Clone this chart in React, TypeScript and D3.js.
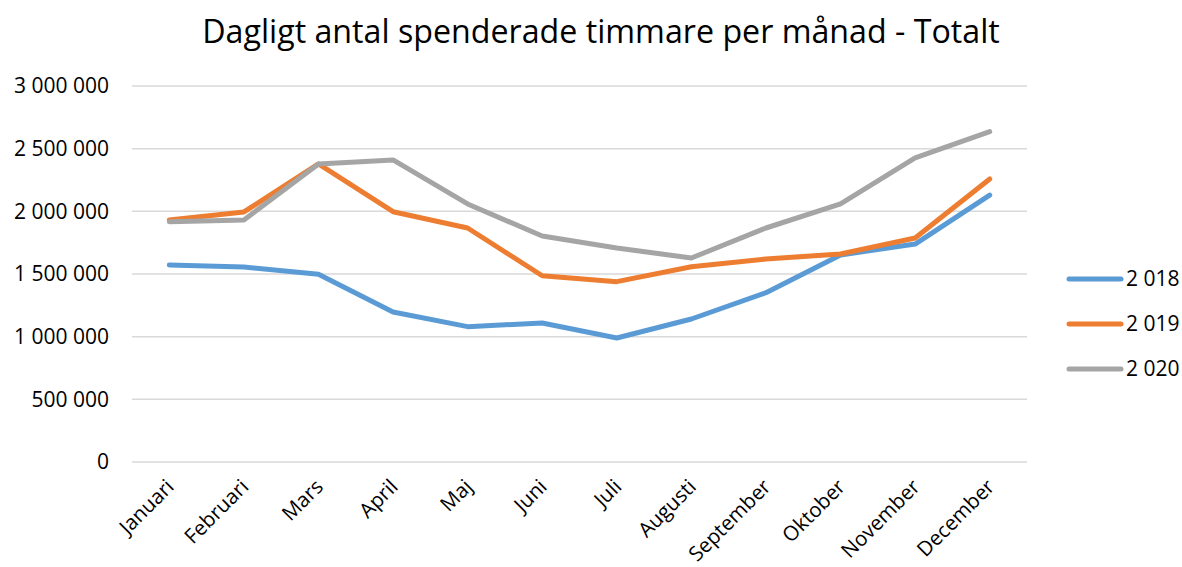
import React from "react";
import * as d3 from "d3";

// month categories
const months = ["Januari", "Februari", "Mars", "April", "Maj", "Juni", "Juli", "Augusti", "September", "Oktober", "November", "December"];

// series values (daily hours per month)
const values2018 = [1572000, 1556000, 1498000, 1197000, 1080000, 1109000, 989000, 1141000, 1351000, 1652000, 1739000, 2130000];
const values2019 = [1931000, 1995000, 2378000, 1997000, 1867000, 1486000, 1439000, 1558000, 1620000, 1660000, 1787000, 2258000];
const values2020 = [1917000, 1931000, 2378000, 2410000, 2059000, 1803000, 1707000, 1628000, 1867000, 2059000, 2426000, 2636000];

const seriesNames = ["2 018", "2 019", "2 020"];
const yTicks = [0, 500000, 1000000, 1500000, 2000000, 2500000, 3000000];

const colors = ["#5B9BD5", "#ED7D31", "#A5A5A5"];

const width = 1182;
const height = 567;
const margin = { top: 86, right: 155, bottom: 105, left: 132 };
const font = "'Open Sans', 'Noto Sans', sans-serif";

const fmt = (v: number) => d3.format(",")(v).replace(/,/g, " ");

export default function App() {
  const innerWidth = width - margin.left - margin.right;
  const innerHeight = height - margin.top - margin.bottom;

  const x = d3.scalePoint<string>().domain(months).range([0, innerWidth]).padding(0.5);
  const y = d3.scaleLinear().domain([0, 3000000]).range([innerHeight, 0]);

  const line = d3.line<number>()
    .x((d, i) => x(months[i]) as number)
    .y(d => y(d));

  const series = [values2018, values2019, values2020];

  return (
    <svg width={width} height={height} style={{ position: "absolute", left: 0, top: 0, background: "#fff" }} fontFamily={font}>
      <text x={601} y={43} textAnchor="middle" fontSize={32.2} fill="#000">
        Dagligt antal spenderade timmare per månad - Totalt
      </text>
      <g transform={`translate(${margin.left},${margin.top})`}>
        {/* grid and y labels */}
        {yTicks.map(t => (
          <g key={t}>
            <line x1={0} x2={innerWidth} y1={y(t)} y2={y(t)} stroke="#D9D9D9" strokeWidth={1.5} />
            <text x={-23} y={y(t)} dy="0.35em" textAnchor="end" fontSize={21} fill="#000">{fmt(t)}</text>
          </g>
        ))}
        {/* x labels */}
        {months.map(m => (
          <text key={m} transform={`translate(${(x(m) as number) + 6},${innerHeight + 26}) rotate(-45)`}
            textAnchor="end" fontSize={20.5} fill="#000">{m}</text>
        ))}
        {/* lines */}
        {series.map((s, i) => (
          <path key={i} d={line(s) || ""} fill="none" stroke={colors[i]} strokeWidth={5}
            strokeLinejoin="round" strokeLinecap="round" />
        ))}
      </g>
      {/* legend */}
      <g transform="translate(1067,279)">
        {seriesNames.map((n, i) => (
          <g key={n} transform={`translate(0,${i * 45})`}>
            <line x1={2} x2={54} y1={0} y2={0} stroke={colors[i]} strokeWidth={5} strokeLinecap="round" />
            <text x={59} y={0} dy="0.35em" fontSize={21} fill="#000">{n}</text>
          </g>
        ))}
      </g>
    </svg>
  );
}
